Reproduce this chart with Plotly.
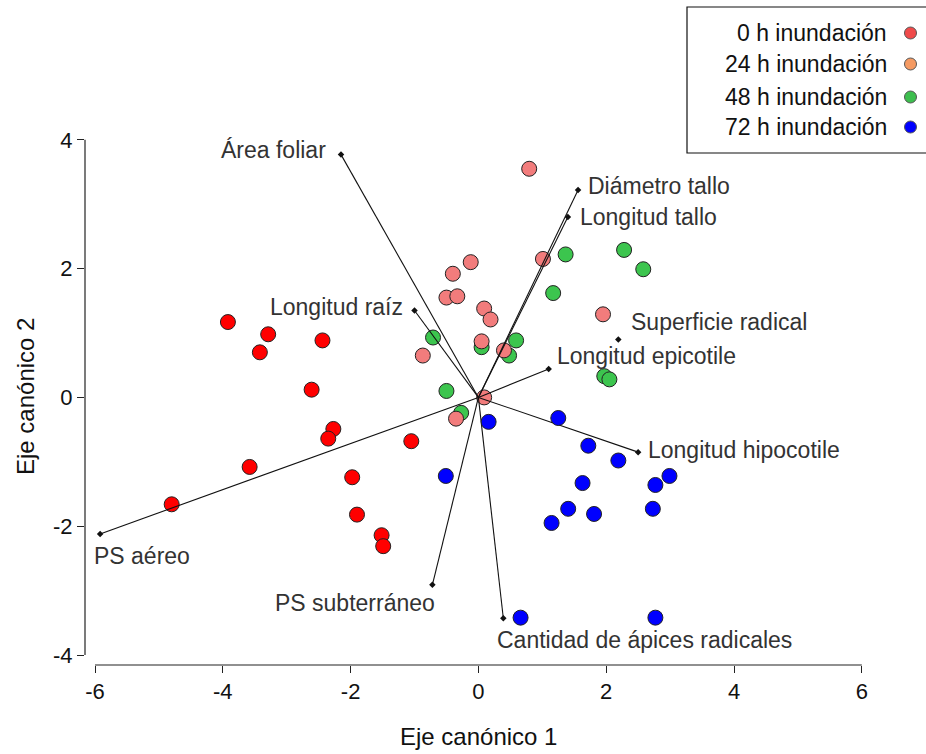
import plotly.graph_objects as go

# Canonical scores per flooding treatment
x_0h = [-3.92, -3.29, -3.42, -2.44, -2.61, -2.27, -2.35, -3.58, -4.80, -1.05, -1.975, -1.90, -1.515, -1.49]
y_0h = [1.17, 0.98, 0.70, 0.885, 0.12, -0.49, -0.64, -1.08, -1.66, -0.68, -1.24, -1.82, -2.14, -2.31]

x_24h = [0.795, 1.01, 1.95, -0.12, -0.40, -0.50, -0.33, 0.09, 0.19, -0.87, 0.05, 0.40, 0.09, -0.35]
y_24h = [3.55, 2.15, 1.29, 2.10, 1.92, 1.55, 1.57, 1.38, 1.21, 0.65, 0.87, 0.73, 0.00, -0.33]

x_48h = [1.365, 2.28, 2.58, 1.17, -0.71, 0.05, 0.59, 0.48, 1.97, 2.05, -0.50, -0.27]
y_48h = [2.22, 2.29, 1.99, 1.62, 0.93, 0.78, 0.885, 0.65, 0.33, 0.28, 0.10, -0.24]

x_72h = [0.16, 1.25, 1.72, 2.19, 2.99, 2.77, 1.63, -0.51, 1.405, 1.81, 2.73, 1.145, 0.66, 2.77]
y_72h = [-0.38, -0.32, -0.75, -0.98, -1.22, -1.36, -1.33, -1.22, -1.73, -1.81, -1.73, -1.95, -3.42, -3.42]

# Variable loadings (biplot vectors)
var_names = ["Área foliar", "Diámetro tallo", "Longitud tallo", "Longitud raíz",
             "Superficie radical", "Longitud epicotile", "Longitud hipocotile",
             "PS aéreo", "PS subterráneo", "Cantidad de ápices radicales"]
var_x = [-2.15, 1.56, 1.40, -1.00, 2.19, 1.10, 2.50, -5.92, -0.72, 0.39]
var_y = [3.77, 3.22, 2.80, 1.35, 0.90, 0.44, -0.85, -2.12, -2.91, -3.43]
no_segment = {"Superficie radical"}

# Label anchor positions for the vectors
label_x = [-2.355, 1.69, 1.56, -1.15, 2.355, 1.20, 2.62, -6.05, -3.22, 0.26]
label_y = [3.835, 3.29, 2.80, 1.40, 1.17, 0.65, -0.82, -2.47, -3.20, -3.77]
label_side = ["right", "left", "left", "right", "left", "left", "left", "left", "left", "left"]

legend_labels = ["0 h inundación", "24 h inundación", "48 h inundación", "72 h inundación"]
legend_colors = ["#F04A4A", "#F59A62", "#3DBE4E", "#0000FF"]

x_ticks = [-6, -4, -2, 0, 2, 4, 6]
y_ticks = [-4, -2, 0, 2, 4]

FONT = "Liberation Sans, Arial, sans-serif"

W, H = 926, 754
ML, MR, MT, MB = 85, 46, 120, 89
PW, PH = W - ML - MR, H - MT - MB


def px_to_paper_x(px):
    return (px - ML) / PW


def px_to_paper_y(py):
    return (H - MB - py) / PH


fig = go.Figure()


def add_group(xs, ys, color):
    fig.add_trace(go.Scatter(
        x=xs, y=ys, mode="markers", showlegend=False, hoverinfo="skip",
        marker=dict(size=15, color=color, line=dict(color="#222222", width=1)),
    ))


add_group(x_48h, y_48h, "#3CC54E")
add_group(x_24h, y_24h, "#F27C7C")
add_group(x_0h, y_0h, "#FF0000")

# Vector segments from the origin
seg_x, seg_y = [], []
for name, vx, vy in zip(var_names, var_x, var_y):
    if name in no_segment:
        continue
    seg_x += [0, vx, None]
    seg_y += [0, vy, None]
fig.add_trace(go.Scatter(
    x=seg_x, y=seg_y, mode="lines", showlegend=False, hoverinfo="skip",
    line=dict(color="#111111", width=1.1),
))
fig.add_trace(go.Scatter(
    x=var_x, y=var_y, mode="markers", showlegend=False, hoverinfo="skip",
    marker=dict(symbol="diamond", size=5, color="#111111"),
))

add_group(x_72h, y_72h, "#0000FF")

annotations = []
for name, lx, ly, side in zip(var_names, label_x, label_y, label_side):
    annotations.append(dict(
        x=lx, y=ly, xref="x", yref="y", text=name, showarrow=False,
        xanchor=side, yanchor="middle",
        font=dict(family=FONT, size=23, color="#333333"),
    ))

# Axis titles
annotations.append(dict(
    x=px_to_paper_x(478), y=px_to_paper_y(736), xref="paper", yref="paper",
    text="Eje canónico 1", showarrow=False, xanchor="center", yanchor="middle",
    font=dict(family=FONT, size=24, color="#111111"),
))
annotations.append(dict(
    x=px_to_paper_x(25), y=px_to_paper_y(397), xref="paper", yref="paper",
    text="Eje canónico 2", showarrow=False, textangle=-90,
    xanchor="center", yanchor="middle",
    font=dict(family=FONT, size=24, color="#111111"),
))

shapes = [
    # detached axis lines spanning the tick range
    dict(type="line", xref="x", yref="paper", x0=x_ticks[0], x1=x_ticks[-1], y0=0, y1=0,
         line=dict(color="#222222", width=1.2)),
    dict(type="line", xref="paper", yref="y", x0=0, x1=0, y0=y_ticks[0], y1=y_ticks[-1],
         line=dict(color="#222222", width=1.2)),
    # legend frame
    dict(type="rect", xref="paper", yref="paper",
         x0=px_to_paper_x(687), x1=px_to_paper_x(932),
         y0=px_to_paper_y(153), y1=px_to_paper_y(7),
         line=dict(color="#111111", width=1.2), fillcolor="white"),
]

legend_rows = [33, 64, 97, 127]
for label, color, row in zip(legend_labels, legend_colors, legend_rows):
    annotations.append(dict(
        x=px_to_paper_x(889), y=px_to_paper_y(row), xref="paper", yref="paper",
        text=label, showarrow=False, xanchor="right", yanchor="middle",
        font=dict(family=FONT, size=23, color="#111111"),
    ))
    shapes.append(dict(
        type="circle", xref="paper", yref="paper",
        xsizemode="pixel", ysizemode="pixel",
        xanchor=px_to_paper_x(910.5), yanchor=px_to_paper_y(row),
        x0=-6, x1=6, y0=-6, y1=6,
        line=dict(color="#555555", width=1), fillcolor=color,
    ))

x_lo = -6 - 10 / 63.9
x_hi = x_lo + PW / 63.9
y_lo = -4 - 10 / 64.4
y_hi = y_lo + PH / 64.4

fig.update_layout(
    width=W, height=H,
    margin=dict(l=ML, r=MR, t=MT, b=MB),
    paper_bgcolor="white", plot_bgcolor="white",
    showlegend=False,
    annotations=annotations,
    shapes=shapes,
    xaxis=dict(
        range=[x_lo, x_hi], tickvals=x_ticks, ticktext=[str(v) for v in x_ticks],
        ticks="outside", ticklen=7, tickwidth=1.2, tickcolor="#222222",
        showline=False, showgrid=False, zeroline=False,
        tickfont=dict(family=FONT, size=22, color="#111111"),
    ),
    yaxis=dict(
        range=[y_lo, y_hi], tickvals=y_ticks, ticktext=[str(v) for v in y_ticks],
        ticks="outside", ticklen=7, tickwidth=1.2, tickcolor="#222222",
        showline=False, showgrid=False, zeroline=False,
        tickfont=dict(family=FONT, size=22, color="#111111"),
    ),
)

fig.write_html("out.html")
